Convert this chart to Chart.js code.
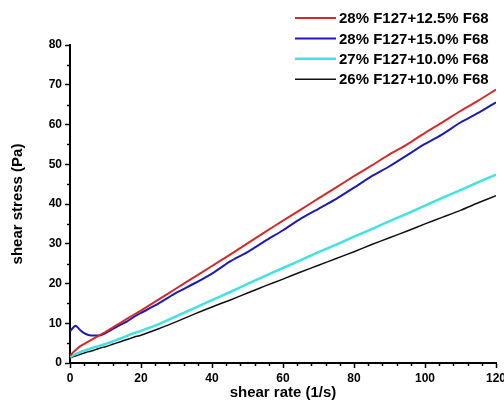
<!DOCTYPE html>
<html>
<head>
<meta charset="utf-8">
<script src="https://cdn.jsdelivr.net/npm/chart.js@4"></script>
<style>
    html, body { margin: 0; padding: 0; background: #fff; overflow: hidden; }
</style>
</head>
<body>
<canvas id="flow-chart" width="504" height="410"></canvas>
<script>
// shear rate (1/s)
const shearRate = [0, 1, 1.5, 2, 3, 4, 5, 6, 7, 8, 9, 10, 12, 14, 16, 18, 20, 25, 30, 35, 40, 45, 50, 55, 60, 65, 70, 75, 80, 85, 90, 95, 100, 105, 110, 115, 120];

// shear stress (Pa) for each sample
const stress28_125 = [1.8, 2.8, 3.2, 3.6, 4.3, 4.8, 5.3, 5.8, 6.3, 6.8, 7.3, 7.8, 8.9, 10.0, 11.1, 12.2, 13.2, 16.0, 18.8, 21.6, 24.4, 27.2, 30.1, 33.0, 35.8, 38.6, 41.4, 44.2, 47.0, 49.7, 52.5, 55.0, 57.9, 60.6, 63.4, 66.0, 68.8];
const stress28_150 = [8.0, 9.0, 9.4, 9.1, 8.2, 7.5, 7.1, 6.9, 6.9, 6.9, 7.1, 7.5, 8.5, 9.5, 10.4, 11.6, 12.6, 15.0, 17.7, 20.0, 22.5, 25.5, 27.9, 30.7, 33.4, 36.3, 38.8, 41.3, 44.1, 47.0, 49.5, 52.3, 55.1, 57.6, 60.5, 62.9, 65.6];
const stress27_100 = [1.5, 2.0, 2.2, 2.4, 2.8, 3.1, 3.4, 3.7, 4.0, 4.2, 4.5, 4.8, 5.4, 6.1, 6.8, 7.5, 8.1, 9.8, 11.8, 13.8, 15.8, 17.8, 19.9, 21.9, 23.9, 25.9, 27.9, 29.8, 31.8, 33.7, 35.7, 37.6, 39.6, 41.6, 43.5, 45.5, 47.4];
const stress26_100 = [1.3, 1.6, 1.75, 1.9, 2.2, 2.5, 2.8, 3.0, 3.3, 3.6, 3.9, 4.1, 4.7, 5.3, 5.9, 6.5, 7.0, 8.6, 10.4, 12.3, 14.1, 15.8, 17.6, 19.4, 21.1, 22.9, 24.6, 26.3, 28.0, 29.8, 31.5, 33.2, 35.0, 36.7, 38.4, 40.3, 42.1];

const seriesLabels = ['28% F127+12.5% F68', '28% F127+15.0% F68', '27% F127+10.0% F68', '26% F127+10.0% F68'];
const xTicks = [0, 20, 40, 60, 80, 100, 120];
const yTicks = [0, 10, 20, 30, 40, 50, 60, 70, 80];

const FONT = 'Arial, "Liberation Sans", sans-serif';

function points(ys) {
    return shearRate.map((x, i) => ({ x: x, y: ys[i] }));
}

// small ticks between the labelled ones + legend in the top right
const extras = {
    id: 'extras',
    afterDraw(chart) {
        const c = chart.ctx;
        const xs = chart.scales.x;
        const ys = chart.scales.y;
        const area = chart.chartArea;

        c.save();
        c.strokeStyle = '#000';
        c.lineWidth = 1.5;
        c.beginPath();
        for (let v = 4; v < 120; v += 4) {
            if (v % 20 === 0) continue;
            const px = Math.round(xs.getPixelForValue(v)) + 0.5;
            c.moveTo(px, area.bottom);
            c.lineTo(px, area.bottom + 3);
        }
        for (let v = 5; v < 80; v += 10) {
            const py = Math.round(ys.getPixelForValue(v)) + 0.5;
            c.moveTo(area.left, py);
            c.lineTo(area.left - 3, py);
        }
        c.stroke();

        c.font = 'bold 15px ' + FONT;
        c.textBaseline = 'middle';
        c.fillStyle = '#000';
        chart.data.datasets.forEach((ds, i) => {
            const y = 18 + i * 20.4;
            c.strokeStyle = ds.borderColor;
            c.lineWidth = ds.borderWidth;
            c.beginPath();
            c.moveTo(295, y);
            c.lineTo(336, y);
            c.stroke();
            c.fillText(ds.label, 339, y + 1);
        });
        c.restore();
    }
};

const ctx = document.getElementById('flow-chart');

new Chart(ctx, {
    type: 'scatter',
    data: {
        datasets: [{
            label: seriesLabels[0],
            data: points(stress28_125),
            borderColor: '#d42a2a',
            borderWidth: 2,
        },
        {
            label: seriesLabels[1],
            data: points(stress28_150),
            borderColor: '#1c1cb4',
            borderWidth: 2,
        },
        {
            label: seriesLabels[2],
            data: points(stress27_100),
            borderColor: '#3fe3e3',
            borderWidth: 2.5,
        },
        {
            label: seriesLabels[3],
            data: points(stress26_100),
            borderColor: '#111111',
            borderWidth: 1.5,
        }].map(ds => Object.assign(ds, {
            showLine: true,
            pointRadius: 0,
            tension: 0.2,
            fill: false
        }))
    },
    options: {
        responsive: false,
        animation: false,
        devicePixelRatio: 1,
        layout: {
            padding: { top: 45, right: 8, left: 0, bottom: 0 }
        },
        plugins: {
            legend: { display: false },
            tooltip: { enabled: false }
        },
        scales: {
            x: {
                type: 'linear',
                min: 0,
                max: 120,
                afterBuildTicks: scale => { scale.ticks = xTicks.map(v => ({ value: v })); },
                afterFit: scale => { scale.height = 47; scale.paddingRight = 0; scale.paddingLeft = 0; },
                border: { color: '#000', width: 2 },
                grid: { drawOnChartArea: false, drawTicks: true, tickLength: 5, tickWidth: 1.5, tickColor: '#000' },
                ticks: {
                    color: '#000',
                    padding: 3,
                    maxRotation: 0,
                    font: { family: FONT, size: 12, weight: 'bold' }
                },
                title: {
                    display: true,
                    text: 'shear rate (1/s)',
                    color: '#000',
                    padding: { top: 0, bottom: 8 },
                    font: { family: FONT, size: 15, weight: 'bold' }
                }
            },
            y: {
                min: 0,
                max: 80,
                afterBuildTicks: scale => { scale.ticks = yTicks.map(v => ({ value: v })); },
                afterFit: scale => { scale.width = 70; },
                border: { color: '#000', width: 2 },
                grid: { drawOnChartArea: false, drawTicks: true, tickLength: 5, tickWidth: 1.5, tickColor: '#000' },
                ticks: {
                    color: '#000',
                    padding: 3,
                    font: { family: FONT, size: 12, weight: 'bold' }
                },
                title: {
                    display: true,
                    text: 'shear stress (Pa)',
                    color: '#000',
                    padding: { top: 9, bottom: 4 },
                    font: { family: FONT, size: 15, weight: 'bold' }
                }
            }
        }
    },
    plugins: [extras]
});
</script>
</body>
</html>
